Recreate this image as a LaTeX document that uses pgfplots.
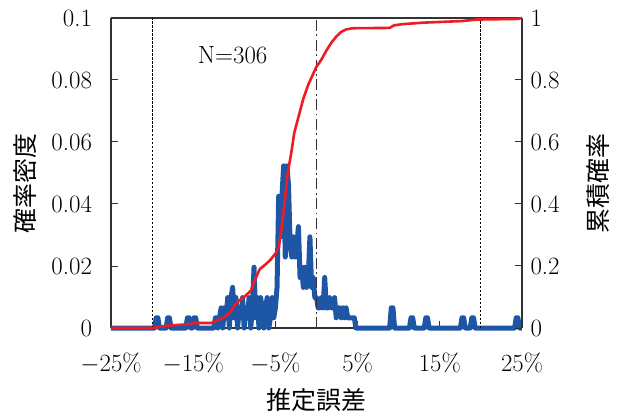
\documentclass[border=0pt]{standalone}
\usepackage{fontspec}
\usepackage{pgfplots}
\pgfplotsset{compat=1.18}
\newfontfamily\jp{Noto Sans CJK JP}
\definecolor{densblue}{RGB}{30,86,166}
\definecolor{cumred}{RGB}{237,28,36}
\definecolor{axisgray}{RGB}{50,50,50}

% probability mass per bin of the estimation error (N=306)
\pgfplotstableread{
x y
-25.0 0
-19.7 0
-19.5 0.0033
-19.3 0.0033
-19.1 0
-18.3 0
-18.1 0.0033
-17.9 0.0033
-17.7 0
-15.9 0
-15.7 0.0033
-15.5 0.0033
-15.3 0
-15.1 0
-14.9 0.0033
-14.7 0.0033
-14.5 0
-12.5 0
-12.3 0.0033
-12.1 0.0033
-12.0 0
-11.8 0.0033
-11.6 0.0065
-11.4 0
-11.2 0.0065
-11.0 0.0033
-10.8 0.0098
-10.6 0
-10.4 0.0098
-10.2 0.0131
-10.0 0.0033
-9.8 0.0098
-9.6 0
-9.4 0.0065
-9.2 0.0033
-9.0 0.0098
-8.8 0
-8.6 0.0065
-8.4 0.0033
-8.2 0.0098
-8.0 0
-7.8 0.0065
-7.6 0.0196
-7.4 0.0033
-7.2 0.0098
-7.0 0
-6.8 0.0098
-6.6 0.0065
-6.4 0
-6.2 0.0065
-6.0 0.0098
-5.8 0
-5.6 0.0033
-5.4 0.0098
-5.2 0.0033
-5.0 0.0065
-4.8 0.0131
-4.6 0.0425
-4.4 0.0294
-4.2 0.0425
-4.0 0.0523
-3.8 0.0229
-3.6 0.0523
-3.4 0.0458
-3.2 0.0261
-3.0 0.0229
-2.8 0.0294
-2.6 0.0229
-2.4 0.0261
-2.2 0.0327
-2.0 0.0163
-1.8 0.0196
-1.6 0.0131
-1.4 0.0196
-1.2 0.0131
-1.0 0.0163
-0.8 0.0294
-0.6 0.0131
-0.4 0.0163
-0.2 0.0098
0.0 0.0098
0.2 0.0065
0.4 0.0065
0.6 0.0098
0.8 0.0065
1.0 0.0163
1.2 0.0065
1.4 0.0065
1.6 0.0098
1.8 0.0065
2.0 0.0065
2.2 0.0098
2.4 0.0033
2.6 0.0065
2.8 0.0065
3.0 0.0033
3.2 0.0065
3.4 0.0033
3.6 0.0065
3.8 0.0033
4.0 0.0033
4.2 0.0033
4.4 0.0033
4.6 0.0033
4.8 0
8.9 0
9.1 0.0065
9.3 0.0065
9.5 0
11.3 0
11.5 0.0033
11.7 0.0033
11.9 0
13.1 0
13.3 0.0033
13.5 0.0033
13.7 0
17.5 0
17.7 0.0033
17.9 0.0033
18.1 0
18.7 0
18.9 0.0033
19.1 0.0033
19.3 0
24.1 0
24.3 0.0033
24.5 0.0033
24.7 0
25.0 0
}\density

% cumulative probability
\pgfplotstableread{
x y
-25.0 0
-19.9 0
-19.3 0.003
-18.0 0.008
-15.6 0.012
-14.8 0.016
-12.8 0.016
-12.0 0.025
-11.2 0.035
-10.4 0.055
-9.6 0.085
-8.8 0.100
-8.0 0.120
-7.4 0.160
-6.9 0.190
-6.2 0.205
-5.6 0.220
-5.0 0.240
-4.6 0.260
-4.3 0.310
-3.9 0.400
-3.5 0.500
-3.1 0.560
-2.7 0.630
-2.2 0.680
-1.6 0.740
-1.0 0.785
-0.4 0.820
0.0 0.843
0.6 0.866
1.2 0.895
1.8 0.920
2.4 0.940
3.0 0.955
3.6 0.963
4.4 0.967
8.9 0.968
9.4 0.976
10.4 0.980
13.0 0.985
17.6 0.990
19.5 0.995
24.4 0.997
25.0 1.000
}\cumulative

\begin{document}
\fontsize{25}{30}\selectfont
\begin{tikzpicture}
\pgfplotsset{
  common/.style={
    scale only axis, width=411bp, height=310bp,
    xmin=-25, xmax=25,
    clip=false,
    tick align=inside, major tick length=7bp,
    every tick/.style={axisgray, line width=1bp},
    axis line style={axisgray, line width=1.2bp},
    /pgf/number format/assume math mode=true,
  },
}
\begin{axis}[
  common,
  ymin=0, ymax=0.1,
  axis y line*=left,
  xtick={-25,-15,-5,5,15,25}, xtick pos=bottom,
  xticklabels={$-25\%$,$-15\%$,$-5\%$,$5\%$,$15\%$,$25\%$},
  xticklabel style={yshift=-16bp},
  ytick={0,0.02,0.04,0.06,0.08,0.1},
  yticklabels={0,0.02,0.04,0.06,0.08,0.1},
  yticklabel style={xshift=-10.5bp},
  xlabel={\jp 推定誤差},
  xlabel style={at={(axis description cs:0.5,-0.232)}, anchor=center},
  ylabel={\jp 確率密度},
  ylabel style={at={(axis description cs:-0.209,0.465)}, anchor=center, rotate=0},
]
\addplot[densblue, line width=5bp, line join=round] table {\density};
\addplot[black, line width=1.1bp, dash pattern=on 2.5bp off 1.5bp] coordinates {(-20,0) (-20,0.1)};
\addplot[black, line width=1.1bp, dash pattern=on 2.5bp off 1.5bp] coordinates {(20,0) (20,0.1)};
\addplot[axisgray, line width=1.6bp, dash pattern=on 11bp off 3.5bp on 1.8bp off 3.5bp] coordinates {(0,0) (0,0.1)};
\node at (axis cs:-10.2,0.088) {N=306};
\end{axis}
\begin{axis}[
  common,
  ymin=0, ymax=1,
  axis y line*=right, axis x line=none,
  ytick={0,0.2,0.4,0.6,0.8,1},
  yticklabels={0,0.2,0.4,0.6,0.8,1},
  ylabel={\jp 累積確率},
  ylabel style={at={(axis description cs:1.185,0.465)}, anchor=center, rotate=0},
]
\addplot[cumred, line width=2.6bp, line join=round] table {\cumulative};
\end{axis}
\pgfresetboundingbox
\path[use as bounding box] (-111bp,-91bp) rectangle (513bp,328bp);
\end{tikzpicture}
\end{document}
